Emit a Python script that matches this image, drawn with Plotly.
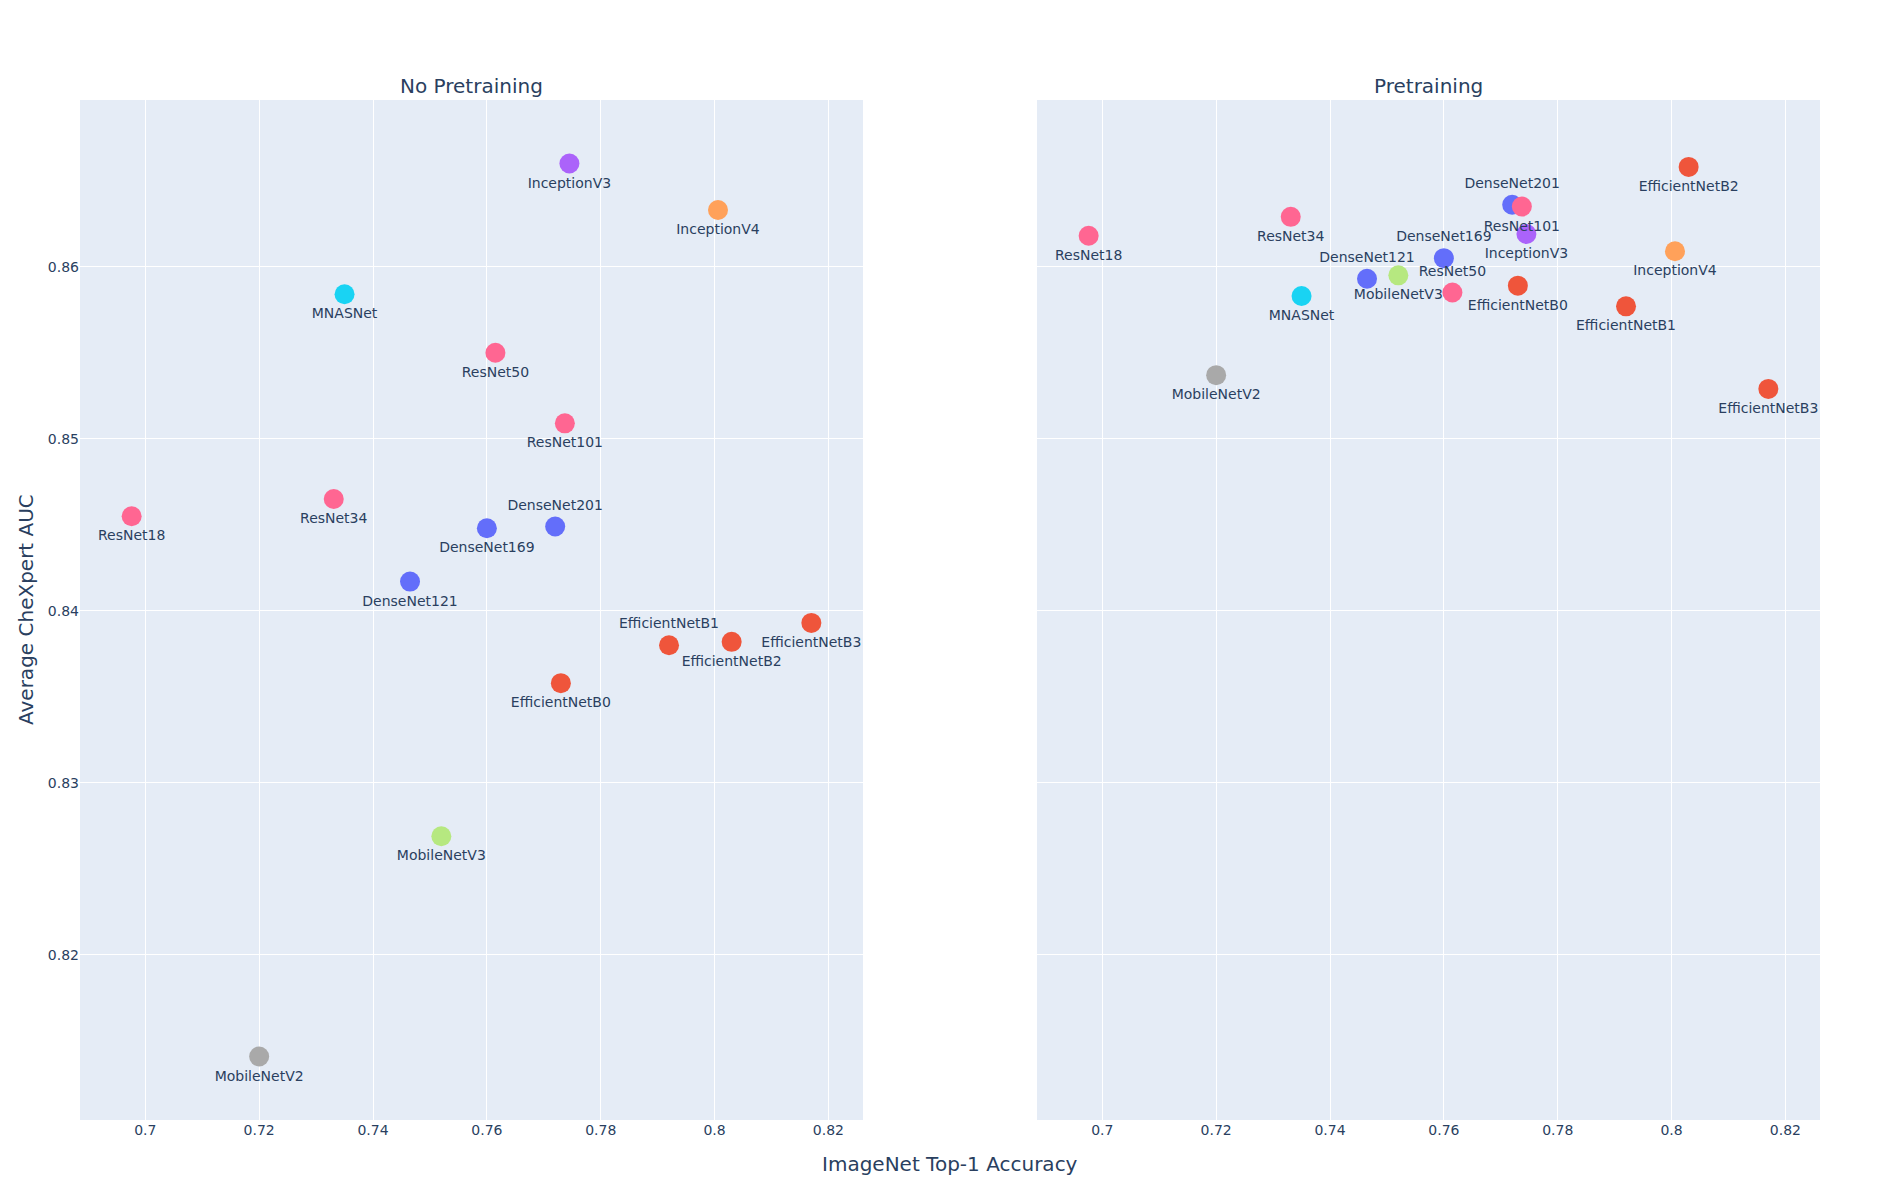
import plotly.graph_objects as go
from plotly.subplots import make_subplots

# models (alphabetical, this is also the draw order)
models = ['DenseNet121', 'DenseNet169', 'DenseNet201',
          'EfficientNetB0', 'EfficientNetB1', 'EfficientNetB2', 'EfficientNetB3',
          'InceptionV3', 'InceptionV4', 'MNASNet', 'MobileNetV2', 'MobileNetV3',
          'ResNet18', 'ResNet34', 'ResNet50', 'ResNet101']

imagenet_top1 = [0.7465, 0.760, 0.772,
                 0.773, 0.792, 0.803, 0.817,
                 0.7745, 0.8006, 0.735, 0.720, 0.752,
                 0.6976, 0.7331, 0.7615, 0.7737]

auc_no_pretrain = [0.8417, 0.8448, 0.8449,
                   0.8358, 0.8380, 0.8382, 0.8393,
                   0.8660, 0.8633, 0.8584, 0.8141, 0.8269,
                   0.8455, 0.8465, 0.8550, 0.8509]

auc_pretrain = [0.8593, 0.8605, 0.8636,
                0.8589, 0.8577, 0.8658, 0.8529,
                0.8619, 0.8609, 0.8583, 0.8537, 0.8595,
                0.8618, 0.8629, 0.8585, 0.8635]

family_colors = {
    'DenseNet': '#636EFA', 'EfficientNet': '#EF553B', 'InceptionV3': '#AB63FA',
    'InceptionV4': '#FFA15A', 'MNASNet': '#19D3F3', 'MobileNetV2': '#A9A9A9',
    'MobileNetV3': '#B6E880', 'ResNet': '#FF6692',
}

def color_of(name):
    for k, c in family_colors.items():
        if name.startswith(k):
            return c
    return '#636EFA'

colors = [color_of(m) for m in models]

top_left = {'DenseNet201', 'EfficientNetB1'}
top_right = {'DenseNet121', 'DenseNet169', 'DenseNet201', 'ResNet50'}

pos_left = ['top center' if m in top_left else 'bottom center' for m in models]
pos_right = ['top center' if m in top_right else 'bottom center' for m in models]

fig = make_subplots(rows=1, cols=2, shared_yaxes=True, horizontal_spacing=0.1,
                    subplot_titles=('No Pretraining', 'Pretraining'),
                    x_title='ImageNet Top-1 Accuracy', y_title='Average CheXpert AUC')

fig.add_trace(go.Scatter(x=imagenet_top1, y=auc_no_pretrain, mode='markers+text',
                         text=models, textposition=pos_left,
                         marker=dict(color=colors, size=20),
                         textfont=dict(size=14)), row=1, col=1)
fig.add_trace(go.Scatter(x=imagenet_top1, y=auc_pretrain, mode='markers+text',
                         text=models, textposition=pos_right,
                         marker=dict(color=colors, size=20),
                         textfont=dict(size=14)), row=1, col=2)

fig.update_annotations(font_size=20)
fig.update_xaxes(tickfont_size=14)
fig.update_yaxes(tickfont_size=14)
# page body has an 8px margin, so shrink the figure to keep the plot where it should be
fig.update_layout(width=1892, height=1192, showlegend=False,
                  margin=dict(l=72, r=80, t=92, b=80),
                  font=dict(family='Verdana, DejaVu Sans, sans-serif', color='#2a3f5f'))

fig.write_html("out.html")
